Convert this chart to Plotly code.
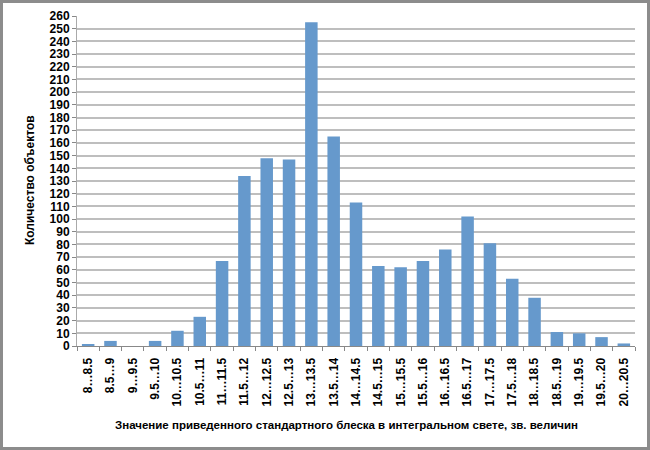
import plotly.graph_objects as go

categories = ["8…8.5", "8.5…9", "9…9.5", "9.5…10", "10…10.5", "10.5…11", "11…11.5",
              "11.5…12", "12…12.5", "12.5…13", "13…13.5", "13.5…14", "14…14.5",
              "14.5…15", "15…15.5", "15.5…16", "16…16.5", "16.5…17", "17…17.5",
              "17.5…18", "18…18.5", "18.5…19", "19…19.5", "19.5…20", "20…20.5"]
counts = [1, 4, 0, 4, 12, 23, 67, 134, 148, 147, 255, 165, 113,
          63, 62, 67, 76, 102, 81, 53, 38, 11, 10, 7, 2]
y_ticks = list(range(0, 261, 10))

W, H = 650, 450
L, R, T, B = 77, 15, 16, 104
pw, ph = W - L - R, H - T - B

def px2x(p):
    return (p - L) / pw

def py2y(p):
    return (H - B - p) / ph

fig = go.Figure(go.Bar(
    x=categories, y=counts,
    marker=dict(color="#6699CC", line=dict(width=0)),
))

fig.update_layout(
    width=W, height=H,
    margin=dict(l=L, r=R, t=T, b=B, autoexpand=False),
    paper_bgcolor="white", plot_bgcolor="white",
    bargap=0.44,
    showlegend=False,
    font=dict(family="Liberation Sans, Arial, sans-serif", size=12, color="black", weight="bold"),
    shapes=[dict(type="rect", xref="paper", yref="paper",
                 x0=px2x(1.5), x1=px2x(W - 1.5), y0=py2y(H - 1.5), y1=py2y(1.5),
                 line=dict(color="#8C8C8C", width=3), fillcolor="rgba(0,0,0,0)", layer="below")],
    annotations=[
        dict(text="Значение приведенного стандартного блеска в интегральном свете, зв. величин",
             xref="paper", yref="paper", x=px2x(346), y=py2y(425), showarrow=False,
             xanchor="center", yanchor="middle", font=dict(size=11.5, weight="bold")),
        dict(text="Количество объектов", xref="paper", yref="paper",
             x=px2x(30), y=py2y(180), showarrow=False, textangle=-90,
             xanchor="center", yanchor="middle", font=dict(size=12, weight="bold")),
    ],
)

fig.update_xaxes(
    type="category", tickangle=-90, tickson="boundaries",
    ticks="outside", ticklen=4, tickcolor="#888888",
    showline=True, linecolor="#888888", linewidth=1,
    showgrid=False, tickfont=dict(size=12, weight="bold"),
    ticklabelstandoff=6, automargin=False,
)
fig.update_yaxes(
    range=[0, 260], tickvals=y_ticks, ticks="outside", ticklen=4, tickcolor="#888888",
    showline=True, linecolor="#AAAAAA", linewidth=1,
    showgrid=True, gridcolor="#BEBEBE", gridwidth=1.5,
    zeroline=False, tickfont=dict(size=12, weight="bold"), automargin=False,
)

fig.write_html("out.html", config={"displayModeBar": False},
               post_script="document.body.style.margin='0';document.body.style.overflow='hidden';")
